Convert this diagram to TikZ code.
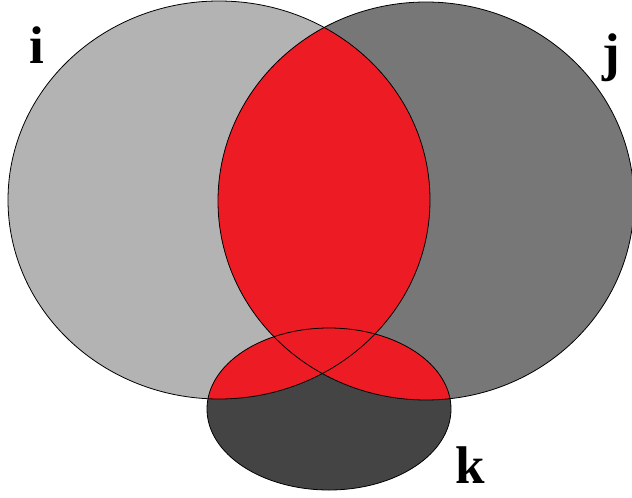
\documentclass[tikz,border=0pt]{standalone}
\usepackage{fontspec}
\setmainfont{Liberation Serif}
\usepackage{xcolor}
\definecolor{SetIGray}{HTML}{B3B3B3}
\definecolor{SetJGray}{HTML}{777777}
\definecolor{SetKGray}{HTML}{444444}
\definecolor{OverlapRed}{HTML}{ED1C24}
\newcommand{\SetI}{(219,200) ellipse [x radius=211pt,y radius=199pt]}
\newcommand{\SetJ}{(426,201) ellipse [x radius=208pt,y radius=199pt]}
\newcommand{\SetK}{(329,409) ellipse [x radius=122pt,y radius=81pt]}

\begin{document}
\begin{tikzpicture}[
  x=1pt,y=-1pt,
  outline/.style={draw=black,line width=0.8pt},
  setlabel/.style={font=\fontsize{53}{53}\selectfont\bfseries,inner sep=0pt,anchor=base},
]
  \useasboundingbox (0,0) rectangle (632,498);

  \fill[SetIGray] \SetI;
  \fill[SetJGray] \SetJ;
  \fill[SetKGray] \SetK;

  % pairwise overlaps
  \begin{scope}
    \clip \SetI;
    \fill[OverlapRed] \SetJ;
    \fill[OverlapRed] \SetK;
  \end{scope}
  \begin{scope}
    \clip \SetJ;
    \fill[OverlapRed] \SetK;
  \end{scope}

  \draw[outline] \SetI;
  \draw[outline] \SetJ;
  \draw[outline] \SetK;

  \node[setlabel] (labeli) at (37,63) {i};
  \node[setlabel] (labelj) at (611,70) {j};
  \node[setlabel] (labelk) at (470,483) {k};
\end{tikzpicture}
\end{document}
